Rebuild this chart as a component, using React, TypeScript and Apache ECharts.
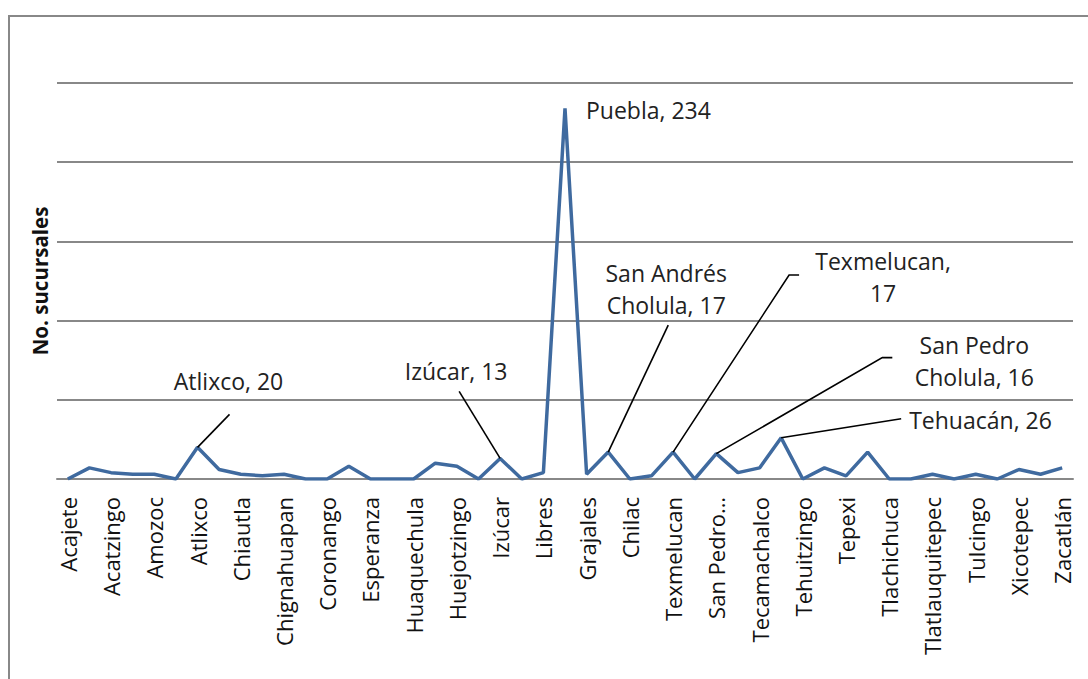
import React, { useEffect, useRef } from "react";
import * as echarts from "echarts";

const categories = [
  "Acajete", "Acatlán", "Acatzingo", "Ajalpan", "Amozoc", "Atempan", "Atlixco",
  "Cañada Morelos", "Chiautla", "Chietla", "Chignahuapan", "Chila", "Coronango",
  "Cuautlancingo", "Esperanza", "Guadalupe Victoria", "Huaquechula", "Huauchinango",
  "Huejotzingo", "Hueytamalco", "Izúcar", "Jolalpan", "Libres", "Puebla", "Grajales",
  "San Andrés Cholula", "Chilac", "San José Chiapa", "Texmelucan",
  "San Nicolás de los Ranchos", "San Pedro Cholula", "San Salvador el Seco",
  "Tecamachalco", "Tehuacán", "Tehuitzingo", "Tepeaca", "Tepexi", "Teziutlán",
  "Tlachichuca", "Tlacotepec", "Tlatlauquitepec", "Tochimilco", "Tulcingo",
  "Venustiano Carranza", "Xicotepec", "Zacapoaxtla", "Zacatlán",
];

const sucursales = [
  0, 7, 4, 3, 3, 0, 20, 6, 3, 2, 3, 0, 0, 8, 0, 0, 0, 10, 8, 0, 13, 0, 4, 234, 3,
  17, 0, 2, 17, 0, 16, 4, 7, 26, 0, 7, 2, 17, 0, 0, 3, 0, 3, 0, 6, 3, 7,
];

const calloutIndex = [6, 20, 23, 25, 28, 30, 33];
const calloutText = [
  "Atlixco, 20",
  "Izúcar, 13",
  "Puebla, 234",
  "San Andrés\nCholula, 17",
  "Texmelucan,\n17",
  "San Pedro\nCholula, 16",
  "Tehuacán, 26",
];

const yTicks = { min: 0, max: 250, interval: 50 };
const yTitle = "No. sucursales";

// layout of callouts (pixel offsets from the data point)
const calloutLayout: { line?: number[][]; text: number[]; align: string }[] = [
  { line: [[0, 0], [32, -33]], text: [31, -66], align: "center" },
  { line: [[0, 0], [-41, -67]], text: [-44, -87], align: "center" },
  { text: [21, 2], align: "left" },
  { line: [[0, 0], [60, -127]], text: [58, -163], align: "center" },
  { line: [[0, 0], [116, -177], [126, -177]], text: [210, -175], align: "center" },
  { line: [[0, 0], [166, -96], [176, -96]], text: [258, -93], align: "center" },
  { line: [[0, 0], [120, -19]], text: [128, -18], align: "left" },
];

const FONT = '"Open Sans", "Noto Sans", sans-serif';
const GRAY = "#888888";

export default function App() {
  const ref = useRef<HTMLDivElement>(null);
  useEffect(() => {
    if (!ref.current) return;
    const chart = echarts.init(ref.current, null, { renderer: "svg" });
    chart.setOption({
      animation: false,
      backgroundColor: "#ffffff",
      grid: { left: 57, right: 15, top: 83, bottom: 200, containLabel: false },
      xAxis: {
        type: "category",
        data: categories,
        boundaryGap: true,
        axisLine: { show: true, lineStyle: { color: GRAY, width: 2 } },
        axisTick: { show: false },
        axisLabel: {
          interval: 1,
          rotate: 90,
          margin: 18,
          color: "#111",
          fontFamily: FONT,
          fontSize: 22,
          formatter: (v: string) => {
            const parts = v.split(" ");
            return parts.length > 2 ? parts.slice(0, 2).join(" ") + "…" : v;
          },
        },
      },
      yAxis: {
        type: "value",
        min: yTicks.min,
        max: yTicks.max,
        interval: yTicks.interval,
        name: yTitle,
        nameLocation: "middle",
        nameRotate: 90,
        nameGap: 7,
        nameTextStyle: { fontFamily: FONT, fontSize: 20.5, fontWeight: "bold", color: "#111" },
        axisLine: { show: false },
        axisTick: { show: false },
        axisLabel: { show: false },
        splitLine: { show: true, lineStyle: { color: GRAY, width: 2 } },
      },
      series: [
        {
          type: "line",
          data: sucursales,
          showSymbol: false,
          symbol: "none",
          lineStyle: { color: "#3F6A9F", width: 3.5 },
          itemStyle: { color: "#3F6A9F" },
        },
      ],
    });

    const graphics: any[] = [
      {
        type: "rect",
        shape: { x: 9, y: 16, width: 1100, height: 700 },
        style: { fill: "none", stroke: GRAY, lineWidth: 2 },
        z: 0,
        silent: true,
      },
    ];
    calloutIndex.forEach((idx, k) => {
      const p = chart.convertToPixel({ seriesIndex: 0 }, [idx, sucursales[idx]]) as number[];
      const L = calloutLayout[k];
      if (L.line) {
        graphics.push({
          type: "polyline",
          shape: { points: L.line.map(([dx, dy]) => [p[0] + dx, p[1] + dy]) },
          style: { stroke: "#000", lineWidth: 1.6, fill: "none" },
          z: 20,
        });
      }
      graphics.push({
        type: "text",
        x: p[0] + L.text[0],
        y: p[1] + L.text[1],
        z: 20,
        style: {
          text: calloutText[k],
          fill: "#222",
          font: `23px ${FONT}`,
          fontSize: 23,
          fontFamily: FONT,
          align: L.align,
          textAlign: L.align,
          verticalAlign: "middle",
          textVerticalAlign: "middle",
          lineHeight: 32,
        },
      });
    });
    chart.setOption({ graphic: graphics });
    return () => chart.dispose();
  }, []);
  return (
    <div
      ref={ref}
      style={{ position: "fixed", left: 0, top: 0, width: 1088, height: 679, background: "#fff" }}
    />
  );
}
